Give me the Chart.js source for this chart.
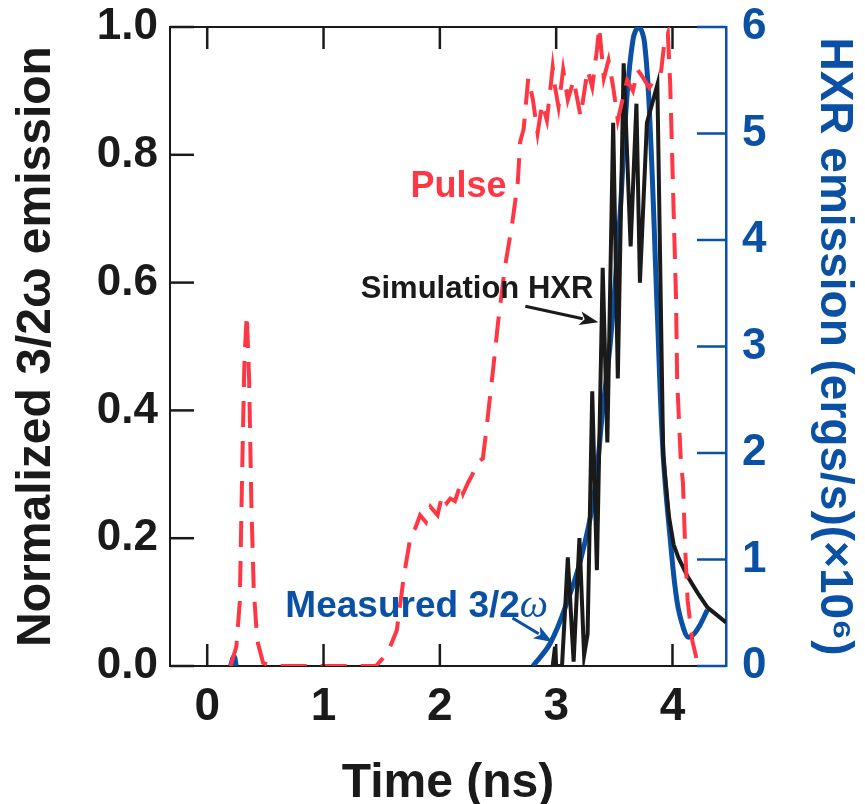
<!DOCTYPE html>
<html>
<head>
<meta charset="utf-8">
<script src="https://cdn.jsdelivr.net/npm/chart.js@4.4.1/dist/chart.umd.min.js"></script>
<style>
  html, body { margin: 0; padding: 0; background: #ffffff; }
  #wrap { width: 865px; height: 804px; }
</style>
</head>
<body>
<div id="wrap"><canvas id="chart" width="865" height="804"></canvas></div>
<script>
// 시간축 (ns)
const xTicks = [0, 1, 2, 3, 4];
const leftTicks = [0, 0.2, 0.4, 0.6, 0.8, 1.0];
const rightTicks = [0, 1, 2, 3, 4, 5, 6];

// Pulse (빨간 점선, 왼쪽 축)
const pulseT = [0.20, 0.25, 0.28, 0.30, 0.32, 0.34, 0.36, 0.38, 0.40, 0.43, 0.48, 0.55,
  1.00, 1.45, 1.50, 1.55, 1.63, 1.69, 1.75, 1.79, 1.83, 1.88, 1.92, 1.98, 2.02, 2.06, 2.09, 2.13,
  2.18, 2.20, 2.24, 2.28, 2.32, 2.37, 2.40, 2.46, 2.50, 2.56, 2.62, 2.67, 2.69, 2.72, 2.76, 2.80,
  2.84, 2.88, 2.92, 2.97, 2.99, 3.02, 3.06, 3.10, 3.15, 3.21, 3.27, 3.31, 3.35, 3.37, 3.41, 3.45,
  3.49, 3.53, 3.57, 3.61, 3.66, 3.70, 3.75, 3.80, 3.84, 3.90, 3.93, 3.96, 3.98, 4.00, 4.01, 4.03,
  4.04, 4.07, 4.09, 4.11, 4.13, 4.17, 4.21];
const pulseV = [0.00, 0.03, 0.10, 0.30, 0.48, 0.55, 0.45, 0.25, 0.12, 0.04, 0.005, 0.00,
  0.00, 0.00, 0.01, 0.02, 0.056, 0.14, 0.205, 0.216, 0.236, 0.225, 0.249, 0.236, 0.268, 0.255, 0.262, 0.258,
  0.286, 0.27, 0.286, 0.30, 0.318, 0.325, 0.37, 0.468, 0.537, 0.625, 0.69, 0.757, 0.82, 0.84, 0.92, 0.886,
  0.834, 0.88, 0.854, 0.937, 0.906, 0.875, 0.933, 0.886, 0.917, 0.86, 0.933, 0.906, 0.964, 1.0, 0.92, 0.948,
  0.906, 0.854, 0.886, 0.917, 0.90, 0.933, 0.92, 0.905, 0.917, 0.928, 0.975, 0.99, 0.912, 0.78, 0.71, 0.578,
  0.448, 0.327, 0.286, 0.18, 0.103, 0.04, 0.009];

// Simulation HXR (검정 실선, 오른쪽 축 단위)
const simT = [2.97, 2.99, 3.00, 3.05, 3.08, 3.10, 3.15, 3.20, 3.24, 3.27, 3.31, 3.35, 3.40, 3.44,
  3.49, 3.53, 3.58, 3.64, 3.69, 3.72, 3.78, 3.87, 3.92, 3.97, 4.01, 4.05, 4.13, 4.22, 4.30, 4.38, 4.46];
const simV = [0.00, 0.18, 0.00, 0.00, 0.60, 1.02, 0.04, 1.20, 0.10, 0.30, 2.58, 0.90, 3.74, 2.10,
  5.10, 2.70, 5.66, 3.94, 5.28, 3.60, 5.10, 5.46, 1.98, 1.40, 1.14, 1.02, 0.84, 0.68, 0.55, 0.48, 0.41];

// Measured 3/2ω (파란 실선, 왼쪽 축)
const measT = [0.20, 0.23, 0.25, null, 2.80, 2.95, 3.10, 3.21, 3.32, 3.40, 3.47, 3.55, 3.60, 3.66, 3.71,
  3.76, 3.81, 3.87, 3.92, 3.98, 4.04, 4.10, 4.14, 4.21, 4.30];
const measV = [0.00, 0.015, 0.00, null, 0.00, 0.036, 0.103, 0.166, 0.26, 0.40, 0.515, 0.709, 0.87, 0.98, 1.00,
  0.975, 0.834, 0.55, 0.33, 0.20, 0.10, 0.056, 0.045, 0.056, 0.088];

const RED = '#ff3644';
const BLUE = '#0a50a5';
const BLACK = '#1a1a1a';
const FONT = "'Liberation Sans', Arial, sans-serif";

function toPoints(ts, vs) {
    return ts.map((t, i) => (t === null ? { x: null, y: null } : { x: t, y: vs[i] }));
}

// 축 크기 고정 (라벨 여백 무시)
function fixSize(dim, size) {
    return s => {
        s[dim] = size;
        s.paddingTop = 0;
        s.paddingBottom = 0;
        s.paddingLeft = 0;
        s.paddingRight = 0;
    };
}

// 안쪽 방향 눈금
const inwardTicks = {
    id: 'inwardTicks',
    afterDatasetsDraw(chart) {
        const { ctx, chartArea, scales } = chart;
        ctx.save();
        ctx.lineWidth = 2.5;
        ctx.strokeStyle = BLACK;
        xTicks.forEach(v => {
            const px = scales.x.getPixelForValue(v);
            ctx.beginPath();
            ctx.moveTo(px, chartArea.bottom);
            ctx.lineTo(px, chartArea.bottom - 22);
            ctx.moveTo(px, chartArea.top);
            ctx.lineTo(px, chartArea.top + 22);
            ctx.stroke();
        });
        leftTicks.forEach(v => {
            const py = scales.y.getPixelForValue(v);
            ctx.beginPath();
            ctx.moveTo(chartArea.left, py);
            ctx.lineTo(chartArea.left + 24, py);
            ctx.stroke();
        });
        ctx.strokeStyle = BLUE;
        rightTicks.forEach(v => {
            const py = scales.y2.getPixelForValue(v);
            ctx.beginPath();
            ctx.moveTo(chartArea.right, py);
            ctx.lineTo(chartArea.right - 29, py);
            ctx.stroke();
        });
        ctx.restore();
    }
};

function arrow(ctx, x1, y1, x2, y2, color) {
    const ang = Math.atan2(y2 - y1, x2 - x1);
    const head = 20;
    ctx.strokeStyle = color;
    ctx.fillStyle = color;
    ctx.lineWidth = 3;
    ctx.beginPath();
    ctx.moveTo(x1, y1);
    ctx.lineTo(x2 - head * 0.8 * Math.cos(ang), y2 - head * 0.8 * Math.sin(ang));
    ctx.stroke();
    ctx.beginPath();
    ctx.moveTo(x2, y2);
    ctx.lineTo(x2 - head * Math.cos(ang - 0.35), y2 - head * Math.sin(ang - 0.35));
    ctx.lineTo(x2 - head * 0.7 * Math.cos(ang), y2 - head * 0.7 * Math.sin(ang));
    ctx.lineTo(x2 - head * Math.cos(ang + 0.35), y2 - head * Math.sin(ang + 0.35));
    ctx.closePath();
    ctx.fill();
}

// 라벨 & 화살표
const labels = {
    id: 'labels',
    afterDatasetsDraw(chart) {
        const { ctx, scales } = chart;
        const X = v => scales.x.getPixelForValue(v);
        const Y = v => scales.y.getPixelForValue(v);
        ctx.save();
        ctx.textBaseline = 'alphabetic';
        ctx.textAlign = 'center';

        ctx.font = `bold 36px ${FONT}`;
        ctx.fillStyle = RED;
        ctx.fillText('Pulse', X(2.16), Y(0.734));

        ctx.font = `bold 31px ${FONT}`;
        ctx.fillStyle = BLACK;
        ctx.fillText('Simulation HXR', X(2.32), Y(0.576));
        arrow(ctx, X(2.735), Y(0.563), X(3.363), Y(0.538), BLACK);

        // Measured 3/2ω
        ctx.textAlign = 'left';
        ctx.font = `bold 37px ${FONT}`;
        ctx.fillStyle = BLUE;
        const main = 'Measured 3/2';
        const w = ctx.measureText(main).width;
        const x0 = X(1.80) - (w + 28) / 2;
        ctx.fillText(main, x0, Y(0.077));
        ctx.font = `italic 40px 'Liberation Serif', serif`;
        ctx.fillText('ω', x0 + w, Y(0.077));
        arrow(ctx, X(2.624), Y(0.075), X(2.968), Y(0.0376), BLUE);
        ctx.restore();
    }
};

const ctx = document.getElementById('chart');
new Chart(ctx, {
    type: 'line',
    data: {
        datasets: [
            {
                label: 'Pulse',
                data: toPoints(pulseT, pulseV),
                yAxisID: 'y',
                borderColor: RED,
                borderWidth: 4,
                borderDash: [26, 14],
                pointRadius: 0,
                tension: 0,
                fill: false
            },
            {
                label: 'Simulation HXR',
                data: toPoints(simT, simV),
                yAxisID: 'y2',
                borderColor: BLACK,
                borderWidth: 4,
                pointRadius: 0,
                tension: 0,
                fill: false
            },
            {
                label: 'Measured 3/2ω',
                data: toPoints(measT, measV),
                yAxisID: 'y',
                borderColor: BLUE,
                borderWidth: 5,
                pointRadius: 0,
                tension: 0.4,
                spanGaps: false,
                fill: false
            }
        ]
    },
    options: {
        responsive: false,
        animation: false,
        layout: { padding: 0 },
        plugins: {
            legend: { display: false },
            tooltip: { enabled: false }
        },
        scales: {
            x: {
                type: 'linear',
                position: 'bottom',
                min: -0.32,
                max: 4.46,
                afterBuildTicks: s => { s.ticks = xTicks.map(v => ({ value: v })); },
                afterFit: fixSize('height', 138),
                grid: { display: true, drawOnChartArea: false, drawTicks: false },
                border: { display: true, color: BLACK, width: 2 },
                ticks: {
                    color: BLACK,
                    padding: 14,
                    font: { family: FONT, size: 46, weight: 'bold' },
                    callback: v => String(v)
                },
                title: {
                    display: true,
                    text: 'Time (ns)',
                    color: BLACK,
                    padding: { top: 2, bottom: -9 },
                    font: { family: FONT, size: 48, weight: 'bold' }
                }
            },
            x2: {
                type: 'linear',
                position: 'top',
                min: -0.32,
                max: 4.46,
                afterFit: fixSize('height', 27),
                grid: { display: true, drawOnChartArea: false, drawTicks: false },
                border: { display: true, color: BLACK, width: 2 },
                ticks: { display: false }
            },
            y: {
                type: 'linear',
                position: 'left',
                min: 0,
                max: 1,
                afterBuildTicks: s => { s.ticks = leftTicks.map(v => ({ value: v })); },
                afterFit: fixSize('width', 170),
                grid: { display: true, drawOnChartArea: false, drawTicks: false },
                border: { display: true, color: BLACK, width: 2 },
                ticks: {
                    color: BLACK,
                    padding: 12,
                    font: { family: FONT, size: 44, weight: 'bold' },
                    callback: v => v.toFixed(1)
                },
                title: {
                    display: true,
                    text: 'Normalized 3/2ω emission',
                    color: BLACK,
                    padding: { top: 8, bottom: 4 },
                    font: { family: FONT, size: 48, weight: 'bold' }
                }
            },
            y2: {
                type: 'linear',
                position: 'right',
                min: 0,
                max: 6,
                afterBuildTicks: s => { s.ticks = rightTicks.map(v => ({ value: v })); },
                afterFit: fixSize('width', 139),
                grid: { display: true, drawOnChartArea: false, drawTicks: false },
                border: { display: true, color: BLUE, width: 2.5 },
                ticks: {
                    color: BLUE,
                    padding: 16,
                    font: { family: FONT, size: 44, weight: 'bold' },
                    callback: v => String(v)
                },
                title: {
                    display: true,
                    text: 'HXR emission (ergs/s)(×10⁶)',
                    color: BLUE,
                    padding: { top: 4, bottom: 0 },
                    font: { family: FONT, size: 46, weight: 'bold' }
                }
            }
        }
    },
    plugins: [inwardTicks, labels]
});
</script>
</body>
</html>
